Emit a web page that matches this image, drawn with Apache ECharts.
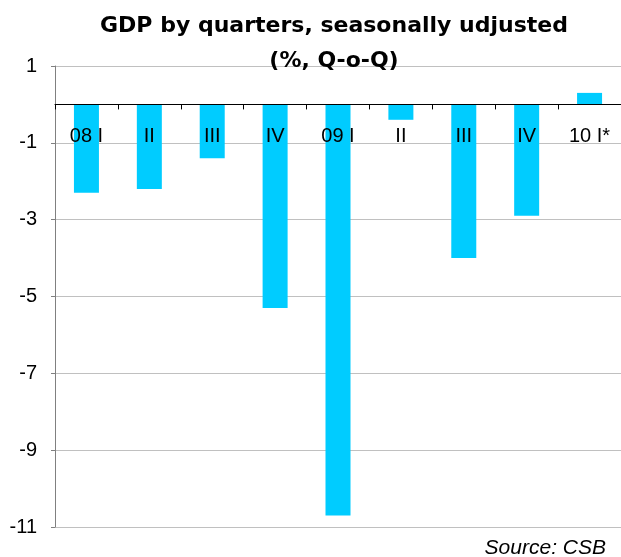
<!DOCTYPE html>
<html>
<head>
<meta charset="utf-8">
<script src="https://cdn.jsdelivr.net/npm/echarts@6/dist/echarts.min.js"></script>
<style>
  html, body { margin: 0; padding: 0; background: #ffffff; }
  #chart { width: 621px; height: 557px; }
</style>
</head>
<body>
<div id="chart"></div>
<script>
const categories = ['08 I', 'II', 'III', 'IV', '09 I', 'II', 'III', 'IV', '10 I*'];
const gdpQoQ = [-2.3, -2.2, -1.4, -5.3, -10.7, -0.4, -4.0, -2.9, 0.3];
const titleLine1 = 'GDP by quarters, seasonally udjusted';
const titleLine2 = '(%, Q-o-Q)';
const sourceText = 'Source: CSB';
const yMin = -11, yMax = 1, yStep = 2;

const chart = echarts.init(document.getElementById('chart'), null, { renderer: 'canvas' });
chart.setOption({
  backgroundColor: '#ffffff',
  animation: false,
  grid: { left: 55, right: 0, top: 66, bottom: 30, containLabel: false },
  xAxis: {
    type: 'category',
    data: categories,
    axisLine: { onZero: true, lineStyle: { color: '#000000', width: 1 } },
    axisTick: { show: true, length: 5, lineStyle: { color: '#000000' } },
    axisLabel: { margin: -401, color: '#000000', fontFamily: 'Liberation Sans', fontSize: 20 },
    z: 10
  },
  yAxis: {
    type: 'value',
    min: yMin, max: yMax, interval: yStep,
    axisLine: { show: true, lineStyle: { color: '#808080', width: 1 } },
    axisTick: { show: true, length: 4, lineStyle: { color: '#808080' } },
    axisLabel: { margin: 18, color: '#000000', fontFamily: 'Liberation Sans', fontSize: 20 },
    splitLine: { show: true, lineStyle: { color: '#c0c0c0', width: 1 } }
  },
  series: [{
    type: 'bar',
    data: gdpQoQ,
    barWidth: 25,
    itemStyle: { color: '#00CCFF' },
    z: 2
  }],
  graphic: [
    {
      type: 'text', x: 334, y: 15, z: 20,
      style: {
        text: titleLine1, align: 'center',
        fontFamily: 'DejaVu Sans', fontWeight: 'bold', fontSize: 22, lineHeight: 22,
        fill: '#000000'
      }
    },
    {
      type: 'text', x: 334, y: 50, z: 20,
      style: {
        text: titleLine2, align: 'center',
        fontFamily: 'DejaVu Sans', fontWeight: 'bold', fontSize: 22, lineHeight: 22,
        fill: '#000000'
      }
    },
    {
      type: 'text', x: 606, y: 538,
      style: {
        text: sourceText, align: 'right',
        fontFamily: 'Liberation Sans', fontStyle: 'italic', fontSize: 21,
        fill: '#000000'
      }
    }
  ]
});
</script>
</body>
</html>
